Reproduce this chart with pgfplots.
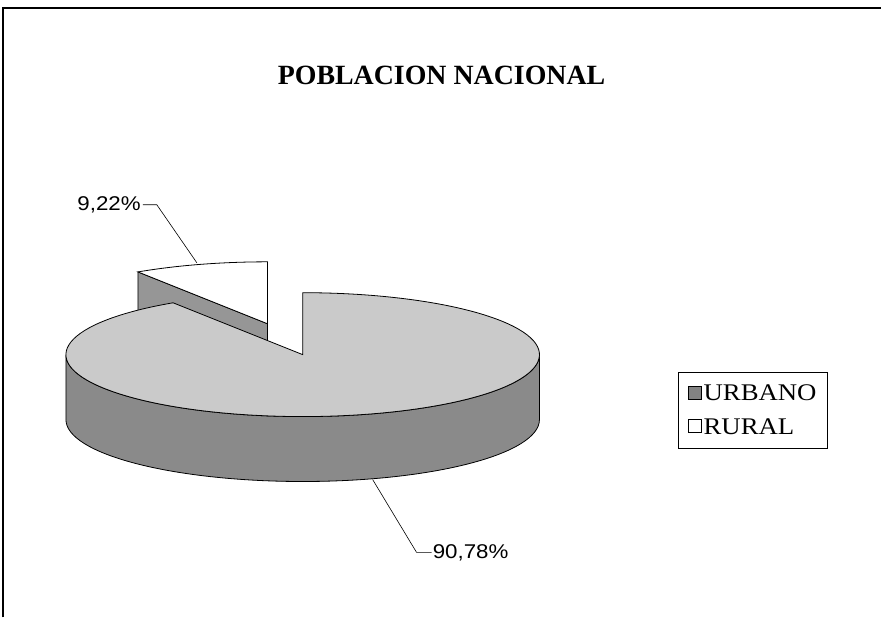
\documentclass[border=0pt]{standalone}
\usepackage{pgfplots}
\pgfplotsset{compat=1.18}
\usepackage{fontspec}
\setmainfont{Liberation Serif}
\newfontfamily\lblfont{Liberation Sans}[FakeStretch=1.12]
\newfontfamily\legfont{Liberation Serif}[FakeStretch=1.12]
\newcommand\legtext[1]{{\legfont\fontsize{24}{27}\selectfont #1}}
\definecolor{topgray}{RGB}{202,202,202}
\definecolor{sidegray}{RGB}{138,138,138}
\definecolor{cutgray}{RGB}{150,150,150}
\definecolor{urbleg}{RGB}{130,130,130}
% data (percent)
\def\urb{90.78}
\def\rur{9.22}
\begin{document}
\begin{tikzpicture}
\begin{axis}[
  x=1bp, y=1bp, xmin=0, xmax=882, ymin=0, ymax=618,
  axis lines=none, clip=false,
  legend style={at={(axis cs:679,246)}, anchor=north west, draw=black,
    line width=0.8bp, nodes={inner xsep=2bp, inner ysep=9bp},
    inner xsep=9bp, inner ysep=4bp, row sep=-2bp, legend cell align=left},
]
% geometry of the 3D pie (pixel-like units)
\pgfmathsetmacro{\cx}{303}
\pgfmathsetmacro{\cy}{263}
\pgfmathsetmacro{\ra}{237}
\pgfmathsetmacro{\rb}{62}
\pgfmathsetmacro{\dep}{65}
\pgfmathsetmacro{\s}{90+3.6*\rur}
\pgfmathsetmacro{\m}{90+1.8*\rur}
\pgfmathsetmacro{\vx}{\cx+0.52*\ra*cos(\m)}
\pgfmathsetmacro{\vy}{\cy+0.52*\rb*sin(\m)}
\pgfmathsetmacro{\px}{\ra*cos(\s)}
\pgfmathsetmacro{\py}{\rb*sin(\s)}
\pgfmathsetmacro{\lx}{\cx-\ra}
% frame
\draw[line width=1.8bp] (axis cs:3,0) -- (axis cs:3,610) -- (axis cs:882,610);
\path (axis cs:0,0) rectangle (axis cs:882,618);
% rural slice (exploded, behind)
\filldraw[fill=cutgray, draw=black, line width=0.8bp] (axis cs:\vx,\vy) -- ++(\px bp,\py bp) -- ++(0bp,-\dep bp) -- ++(-\px bp,-\py bp) -- cycle;
\filldraw[fill=white, draw=black, line width=0.8bp] (axis cs:\vx,\vy) -- ++(0bp,\rb bp) arc[start angle=90, end angle=\s, x radius=\ra bp, y radius=\rb bp] -- cycle;
% urban slice
\filldraw[fill=sidegray, draw=black, line width=0.8bp] (axis cs:\lx,\cy) arc[start angle=180, end angle=360, x radius=\ra bp, y radius=\rb bp] -- ++(0bp,-\dep bp) arc[start angle=360, end angle=180, x radius=\ra bp, y radius=\rb bp] -- cycle;
\filldraw[fill=topgray, draw=black, line width=0.8bp] (axis cs:\cx,\cy) -- ++(\px bp,\py bp) arc[start angle=\s, end angle=450, x radius=\ra bp, y radius=\rb bp] -- cycle;
% leader lines and labels
\draw[line width=0.6bp] (axis cs:143,413) -- (axis cs:157,413) -- (axis cs:197,355);
\node[anchor=east, inner sep=1bp, font=\lblfont\fontsize{20}{24}\selectfont] at (axis cs:142,413) {9,22\%};
\draw[line width=0.6bp] (axis cs:373,138) -- (axis cs:417,65) -- (axis cs:432,65);
\node[anchor=west, inner sep=1bp, font=\lblfont\fontsize{20}{24}\selectfont] at (axis cs:432,65) {90,78\%};
% title
\node[font=\fontsize{28}{32}\selectfont\bfseries] at (axis cs:442,543) {POBLACION NACIONAL};
% legend
\addlegendimage{legend image code/.code={\draw[fill=urbleg,draw=black,line width=0.9bp] (0bp,-6bp) rectangle (13bp,7bp);}}
\addlegendentry{\legtext{URBANO}}
\addlegendimage{legend image code/.code={\draw[fill=white,draw=black,line width=0.9bp] (0bp,-6bp) rectangle (13bp,7bp);}}
\addlegendentry{\legtext{RURAL}}
\end{axis}
\end{tikzpicture}
\end{document}
